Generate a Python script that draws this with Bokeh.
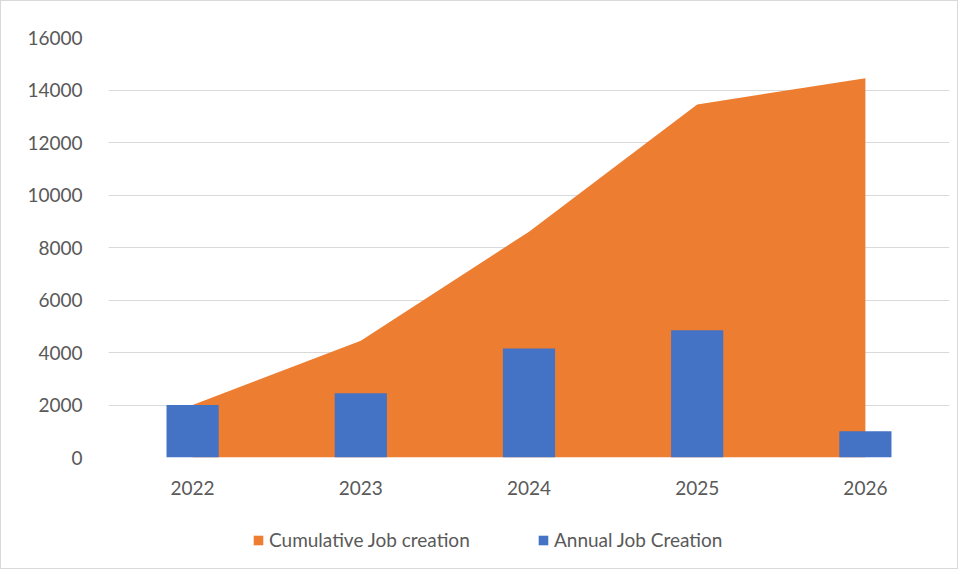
from bokeh.plotting import figure
from bokeh.layouts import column
from bokeh.models import FactorRange, Range1d, FixedTicker, Legend, LegendItem, ColumnDataSource
from bokeh.embed import file_html
from bokeh.resources import INLINE

years = ["2022", "2023", "2024", "2025", "2026"]
annual = [2000, 2450, 4150, 4850, 1000]
cumulative = [2000, 4450, 8600, 13450, 14450]
y_ticks = [0, 2000, 4000, 6000, 8000, 10000, 12000, 14000, 16000]
series_names = ["Cumulative Job creation", "Annual Job Creation"]

ORANGE = "#ED7D31"
BLUE = "#4472C4"
TEXT = "#595959"
GRID = "#D9D9D9"
FONT = "Lato"

src = ColumnDataSource(dict(year=years, annual=annual, cumulative=cumulative))

# main chart
p = figure(x_range=FactorRange(*years), y_range=Range1d(0, 16000),
           width=956, height=501, output_backend="svg", toolbar_location=None,
           min_border_left=107, min_border_right=8, min_border_top=36, min_border_bottom=45)
p.outline_line_color = None
p.background_fill_color = "white"
p.border_fill_color = "white"

area = p.varea(x="year", y1=0, y2="cumulative", source=src, fill_color=ORANGE)
bars = p.vbar(x="year", top="annual", width=0.31, source=src, fill_color=BLUE, line_color=None)

p.xgrid.grid_line_color = None
p.ygrid.grid_line_color = GRID
p.ygrid.grid_line_width = 1
p.yaxis.ticker = FixedTicker(ticks=y_ticks)

for ax in (p.xaxis[0], p.yaxis[0]):
    ax.axis_line_color = None
    ax.major_tick_line_color = None
    ax.minor_tick_line_color = None
    ax.major_label_text_color = TEXT
    ax.major_label_text_font = FONT
    ax.major_label_text_font_size = "19px"
p.yaxis.major_label_standoff = 20
p.xaxis.major_label_standoff = 17

# legend strip below the chart (proxies sit outside the visible range)
leg = figure(width=956, height=66, output_backend="svg", toolbar_location=None,
             x_range=Range1d(0, 1), y_range=Range1d(0, 1),
             x_axis_location=None, y_axis_location=None, min_border=0)
leg.outline_line_color = None
leg.xgrid.grid_line_color = None
leg.ygrid.grid_line_color = None
leg.background_fill_color = "white"
leg.border_fill_color = "white"
area_proxy = leg.varea(x=[5, 6], y1=[5, 5], y2=[6, 6], fill_color=ORANGE)
bar_proxy = leg.vbar(x=[5], top=[6], bottom=[5], width=0.31, fill_color=BLUE, line_color=None)

legend = Legend(items=[LegendItem(label=series_names[0], renderers=[area_proxy]),
                       LegendItem(label=series_names[1], renderers=[bar_proxy])],
                orientation="horizontal", location=(144, 17),
                glyph_width=12, glyph_height=12, label_standoff=5, spacing=39, label_width=229,
                padding=0, margin=0, border_line_color=None, background_fill_alpha=0,
                label_text_font=FONT, label_text_font_size="19px", label_text_color=TEXT)
leg.add_layout(legend)

layout = column(p, leg, spacing=0)
layout.styles = {"border": "1px solid #D9D9D9"}

open("out.html", "w").write(file_html(layout, INLINE))
